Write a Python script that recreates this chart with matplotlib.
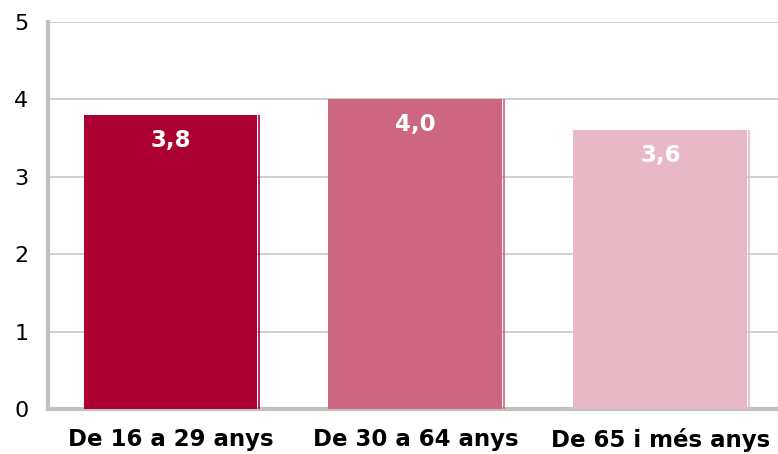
import matplotlib.pyplot as plt

categories = ["De 16 a 29 anys", "De 30 a 64 anys", "De 65 i més anys"]
values = [3.8, 4.0, 3.6]
labels = ["3,8", "4,0", "3,6"]
colors = ["#ac0033", "#cc6681", "#e8b8c6"]

fig = plt.figure(figsize=(7.78, 4.54), dpi=100)
ax = fig.add_axes([0.0617, 0.0991, 0.9383, 0.8524])

x = list(range(len(categories)))
width = 0.71
ax.bar(x, values, width=width, color=colors, zorder=3)
# thin shadow line next to each bar's right edge
for xi, v, c in zip(x, values, colors):
    ax.vlines(xi + width / 2 + 0.008, 0, v, color=c, lw=1.2, zorder=3)
    ax.text(xi, v - 0.33, labels[xi], ha="center", va="center",
            color="white", fontsize=16.5, fontweight="bold", zorder=4)

ax.set_ylim(0, 5)
ax.set_xlim(-0.5, 2.48)
ax.set_yticks([0, 1, 2, 3, 4, 5])
ax.yaxis.grid(True, color="#cccccc", lw=1.3, zorder=0)
ax.set_axisbelow(True)
ax.tick_params(axis="y", length=0, labelsize=16, pad=14)
ax.tick_params(axis="x", length=0, pad=14)
ax.set_xticks(x)
ax.set_xticklabels(categories, fontsize=16.5, fontweight="bold")

for s in ["top", "right"]:
    ax.spines[s].set_visible(False)
for s in ["left", "bottom"]:
    ax.spines[s].set_color("#c0c0c0")
    ax.spines[s].set_linewidth(3)

fig.savefig("out.png", dpi=100)
